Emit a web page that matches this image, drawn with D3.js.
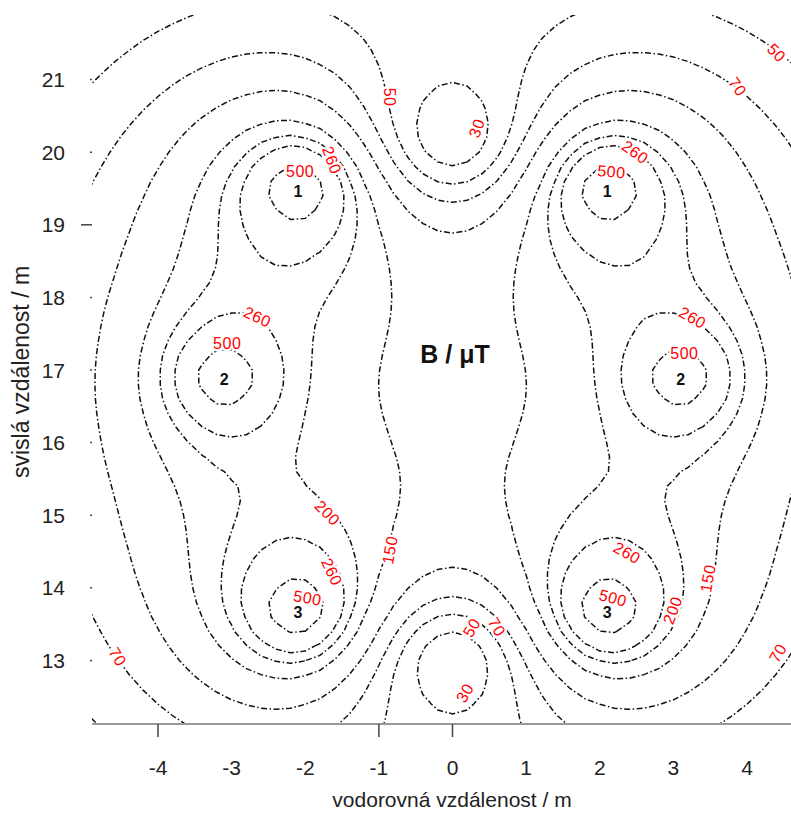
<!DOCTYPE html>
<html>
<head>
<meta charset="utf-8">
<script src="https://cdn.jsdelivr.net/npm/d3@7"></script>
<style>
  body { margin: 0; background: #fff; }
</style>
</head>
<body>
<div id="chart"></div>
<script>
// conductors of a double three-phase line (m), phase 1..3
const conductorX = [-2.1, -3.1, -2.1, 2.1, 3.1, 2.1];
const conductorY = [19.5, 16.9, 13.7, 19.5, 16.9, 13.7];
const conductorPhase = [1, 2, 3, 1, 2, 3];
const phaseAngle = [0, -120, 120];
const current = 880; // A rms

const levels = [30, 50, 70, 100, 150, 200, 260, 500];
const xTicks = [-4, -3, -2, -1, 0, 1, 2, 3, 4];
const yTicks = [13, 14, 15, 16, 17, 18, 19, 20, 21];

// contour labels
const labelText  = ["50", "30", "500", "260", "500", "260", "50", "70", "260", "500", "260", "500",
                    "200", "260", "500", "150", "70", "260", "500", "200", "150", "70", "50", "70", "30"];
const labelX     = [-0.85, 0.33, -2.07, -1.64, 2.16, 2.48, 4.40, 3.87, -2.65, -3.06, 3.26, 3.15,
                    -1.70, -1.64, -1.97, -0.85, -4.55, 2.37, 2.18, 2.99, 3.47, 4.42, 0.26, 0.60, 0.17];
const labelY     = [20.76, 20.33, 19.74, 19.89, 19.73, 20.0, 21.37, 20.90, 17.73, 17.37, 17.72, 17.23,
                    15.03, 14.22, 13.86, 14.52, 13.05, 14.48, 13.86, 13.69, 14.13, 13.10, 13.45, 13.46, 12.55];
const labelAngle = [90, -70, 0, 70, 5, 35, 45, 55, 25, 0, 30, 0,
                    45, 65, 10, -80, 60, 30, 15, -70, -80, -60, -60, 60, -60];

const width = 791;
const height = 814;

const x = d3.scaleLinear().domain([-4, 0]).range([158, 452.5]);
const y = d3.scaleLinear().domain([13, 21]).range([660.4, 79.6]);

const plot = { left: 92, right: 791, top: 15, bottom: 724 };

// |B| in microtesla from phasor currents
const field = (px, py) => {
  let bxr = 0, bxi = 0, byr = 0, byi = 0;
  conductorX.forEach((cx, k) => {
    const dx = px - cx, dy = py - conductorY[k];
    const r2 = Math.max(dx * dx + dy * dy, 1e-4);
    const a = phaseAngle[conductorPhase[k] - 1] * Math.PI / 180;
    const c = 0.2 * current / r2;
    const cr = c * Math.cos(a), ci = c * Math.sin(a);
    bxr += -dy * cr; bxi += -dy * ci;
    byr += dx * cr;  byi += dx * ci;
  });
  return Math.sqrt(bxr * bxr + bxi * bxi + byr * byr + byi * byi);
};

const step = 0.2;
const gx0 = -5.6, gx1 = 5.6, gy0 = 11.4, gy1 = 22.6;
const nx = Math.round((gx1 - gx0) / step) + 1;
const ny = Math.round((gy1 - gy0) / step) + 1;
const values = new Float64Array(nx * ny);
for (let j = 0; j < ny; j++) {
  for (let i = 0; i < nx; i++) {
    values[j * nx + i] = field(gx0 + i * step, gy1 - j * step);
  }
}

const contours = d3.contours().size([nx, ny]).thresholds(levels)(values);

const proj = d3.geoTransform({
  point(px, py) {
    this.stream.point(x(gx0 + (px - 0.5) * step), y(gy1 - (py - 0.5) * step));
  }
});
const path = d3.geoPath(proj);

const svg = d3.create("svg")
  .attr("width", width)
  .attr("height", height)
  .style("display", "block")
  .style("background", "#fff")
  .style("font-family", "'Liberation Sans', Arial, sans-serif");

svg.append("clipPath").attr("id", "clip")
  .append("rect")
    .attr("x", plot.left).attr("y", plot.top)
    .attr("width", plot.right - plot.left)
    .attr("height", plot.bottom - plot.top);

const g = svg.append("g").attr("clip-path", "url(#clip)");

g.selectAll("path")
  .data(contours)
  .join("path")
    .attr("d", path)
    .attr("fill", "none")
    .attr("stroke", "#111")
    .attr("stroke-width", 1.5)
    .attr("stroke-dasharray", "6,2.5,1.5,2.5");

// contour labels
g.append("g")
  .selectAll("text")
  .data(labelText)
  .join("text")
    .attr("transform", (d, i) => `translate(${x(labelX[i])},${y(labelY[i])}) rotate(${labelAngle[i]})`)
    .attr("text-anchor", "middle")
    .attr("dominant-baseline", "central")
    .attr("font-size", 16)
    .attr("letter-spacing", 0.5)
    .attr("fill", "#ff0000")
    .attr("stroke", "#fff")
    .attr("stroke-width", 5)
    .attr("paint-order", "stroke")
    .text(d => d);

// conductor numbers
g.append("g")
  .selectAll("text")
  .data(conductorPhase)
  .join("text")
    .attr("x", (d, i) => x(conductorX[i]))
    .attr("y", (d, i) => y(conductorY[i]) + 8)
    .attr("text-anchor", "middle")
    .attr("font-size", 16)
    .attr("font-weight", "bold")
    .attr("fill", "#111")
    .text(d => d);

svg.append("text")
  .attr("x", 455)
  .attr("y", 363)
  .attr("text-anchor", "middle")
  .attr("font-size", 25)
  .attr("font-weight", "bold")
  .attr("fill", "#111")
  .text("B / μT");

// bottom axis
svg.append("line")
  .attr("x1", plot.left).attr("x2", plot.right)
  .attr("y1", plot.bottom).attr("y2", plot.bottom)
  .attr("stroke", "#999")
  .attr("stroke-width", 2);

svg.append("g")
  .selectAll("line")
  .data([-4, -1, 0])
  .join("line")
    .attr("x1", d => x(d)).attr("x2", d => x(d))
    .attr("y1", plot.bottom).attr("y2", plot.bottom + 13)
    .attr("stroke", "#444")
    .attr("stroke-width", 1.5);

svg.append("g")
  .selectAll("text")
  .data(xTicks)
  .join("text")
    .attr("x", d => x(d))
    .attr("y", 775)
    .attr("text-anchor", "middle")
    .attr("font-size", 21)
    .attr("fill", "#222")
    .text(d => d < 0 ? "-" + Math.abs(d) : d);

svg.append("text")
  .attr("x", 452)
  .attr("y", 807)
  .attr("text-anchor", "middle")
  .attr("font-size", 21)
  .attr("fill", "#222")
  .text("vodorovná vzdálenost / m");

// left axis
svg.append("g")
  .selectAll("line")
  .data(yTicks)
  .join("line")
    .attr("x1", d => d === 19 ? 81 : 90).attr("x2", 92)
    .attr("y1", d => y(d)).attr("y2", d => y(d))
    .attr("stroke", "#444")
    .attr("stroke-width", 1.5);

svg.append("g")
  .selectAll("text")
  .data(yTicks)
  .join("text")
    .attr("x", 65)
    .attr("y", d => y(d))
    .attr("text-anchor", "end")
    .attr("dominant-baseline", "central")
    .attr("font-size", 21)
    .attr("fill", "#222")
    .text(d => d);

svg.append("text")
  .attr("transform", "translate(29,372) rotate(-90)")
  .attr("text-anchor", "middle")
  .attr("font-size", 23)
  .attr("fill", "#222")
  .text("svislá vzdálenost / m");

document.getElementById("chart").appendChild(svg.node());
</script>
</body>
</html>
